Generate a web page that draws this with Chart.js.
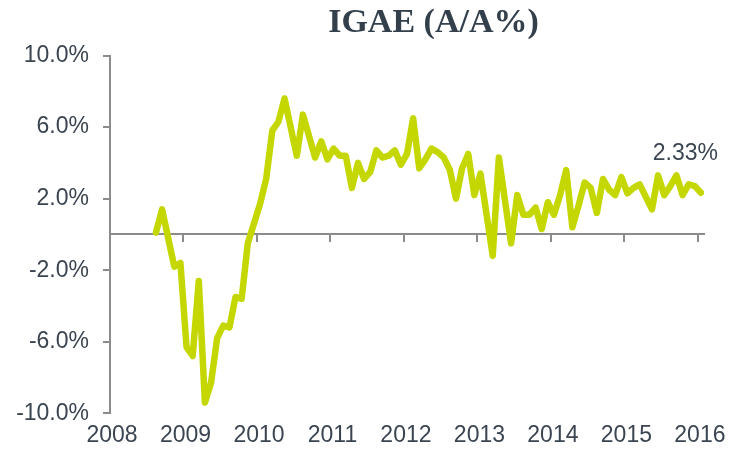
<!DOCTYPE html>
<html>
<head>
<meta charset="utf-8">
<script src="https://cdn.jsdelivr.net/npm/chart.js@4.4.1/dist/chart.umd.min.js"></script>
<style>
html,body{margin:0;padding:0;background:#ffffff;}
#wrap{width:730px;height:452px;position:relative;}
</style>
</head>
<body>
<div id="wrap"><canvas id="c" width="730" height="452"></canvas></div>
<script>
// ---- data ----
const titleText = 'IGAE (A/A%)';
const startYear = 2008;
const firstMonthIndex = 7; // first observation: Aug 2008 (months counted from Jan 2008)
const igaeValues = [
  0.1, 1.4, -0.2, -1.8, -1.6,                               // Aug-Dec 2008
  -6.3, -6.8, -2.6, -9.4, -8.3, -5.8, -5.1, -5.2, -3.5, -3.6, -0.5, 0.6, // 2009
  1.7, 3.1, 5.8, 6.3, 7.6, 6.0, 4.4, 6.7, 5.5, 4.3, 5.2, 4.2,            // 2010
  4.8, 4.4, 4.4, 2.6, 4.0, 3.1, 3.5, 4.7, 4.3, 4.4, 4.7, 3.9,            // 2011
  4.5, 6.5, 3.7, 4.2, 4.8, 4.6, 4.3, 3.6, 2.0, 3.7, 4.5, 2.2,            // 2012
  3.4, 1.1, -1.2, 4.3, 1.9, -0.5, 2.2, 1.1, 1.1, 1.5, 0.3, 1.8,          // 2013
  1.1, 2.2, 3.6, 0.4, 1.6, 2.9, 2.6, 1.2, 3.1, 2.5, 2.2, 3.2,            // 2014
  2.3, 2.6, 2.8, 2.1, 1.4, 3.3, 2.2, 2.7, 3.3, 2.2, 2.8, 2.7,            // 2015
  2.33                                                                   // Jan 2016
];
const yearLabels = ['2008','2009','2010','2011','2012','2013','2014','2015','2016'];
const yTickValues = [-10, -6, -2, 2, 6, 10];
const lastValueLabel = '2.33%';

// ---- build ----
const points = igaeValues.map((v, i) => ({ x: firstMonthIndex + i + 0.5, y: v }));
const yearTickValues = yearLabels.map((_, k) => k * 12);

const textColor = '#3b4551';
const axisColor = '#8c8c8c';
const lineColor = '#c5d700';
const sansFont = 'Liberation Sans, Arial, sans-serif';

const titleShift = {
  id: 'titleShift',
  afterLayout(chart) {
    const t = chart.titleBlock;
    if (t) { t.left = 163; t.right = 704; }
  }
};

const lastLabelPlugin = {
  id: 'lastLabel',
  afterDatasetsDraw(chart) {
    const meta = chart.getDatasetMeta(0);
    const pt = meta.data[meta.data.length - 1];
    const ctx = chart.ctx;
    ctx.save();
    ctx.font = '23px ' + sansFont;
    ctx.fillStyle = textColor;
    ctx.textAlign = 'right';
    ctx.textBaseline = 'middle';
    ctx.fillText(lastValueLabel, pt.x + 17, pt.y - 39);
    ctx.restore();
  }
};

new Chart(document.getElementById('c'), {
  type: 'line',
  data: {
    datasets: [{
      data: points,
      borderColor: lineColor,
      borderWidth: 6.5,
      pointRadius: 0,
      tension: 0,
      borderJoinStyle: 'round',
      borderCapStyle: 'round',
      fill: false,
      xAxisID: 'x',
      yAxisID: 'y'
    }]
  },
  options: {
    responsive: false,
    animation: false,
    devicePixelRatio: 1,
    layout: { padding: { top: 0, left: 0, right: 26, bottom: 6.4 } },
    plugins: {
      legend: { display: false },
      tooltip: { enabled: false },
      title: {
        display: true,
        text: titleText,
        color: '#333f4b',
        font: { family: 'Liberation Serif, Times New Roman, serif', size: 34, weight: 'bold', lineHeight: 1.2 },
        padding: { top: 3, bottom: 11.8 }
      }
    },
    scales: {
      x: {
        type: 'linear',
        position: 'bottom',
        min: 0,
        max: 97,
        afterBuildTicks: s => { s.ticks = yearTickValues.map(v => ({ value: v })); },
        afterFit: s => { s.height = 32.4; },
        grid: { display: false, drawTicks: true, tickLength: 8.6 },
        border: { display: false },
        ticks: {
          autoSkip: false,
          maxRotation: 0,
          padding: 0,
          labelOffset: 2,
          color: textColor,
          font: { family: sansFont, size: 23 },
          callback: v => yearLabels[Math.round(v / 12)]
        }
      },
      x0: {
        type: 'linear',
        axis: 'x',
        position: { y: 0 },
        min: 0,
        max: 97,
        afterBuildTicks: s => { s.ticks = yearTickValues.map(v => ({ value: v })); },
        grid: { display: true, drawOnChartArea: false, drawTicks: true, tickLength: 7, color: axisColor, lineWidth: 2 },
        border: { display: true, color: axisColor, width: 2 },
        ticks: { display: false }
      },
      y: {
        min: -10,
        max: 10,
        afterBuildTicks: s => { s.ticks = yTickValues.map(v => ({ value: v })); },
        afterFit: s => { s.width = 110; },
        grid: { display: true, drawOnChartArea: false, drawTicks: true, tickLength: 7, color: axisColor, lineWidth: 2 },
        border: { display: true, color: axisColor, width: 2 },
        ticks: {
          padding: 14,
          color: textColor,
          font: { family: sansFont, size: 23 },
          callback: v => v.toFixed(1) + '%'
        }
      }
    }
  },
  plugins: [titleShift, lastLabelPlugin]
});
</script>
</body>
</html>
